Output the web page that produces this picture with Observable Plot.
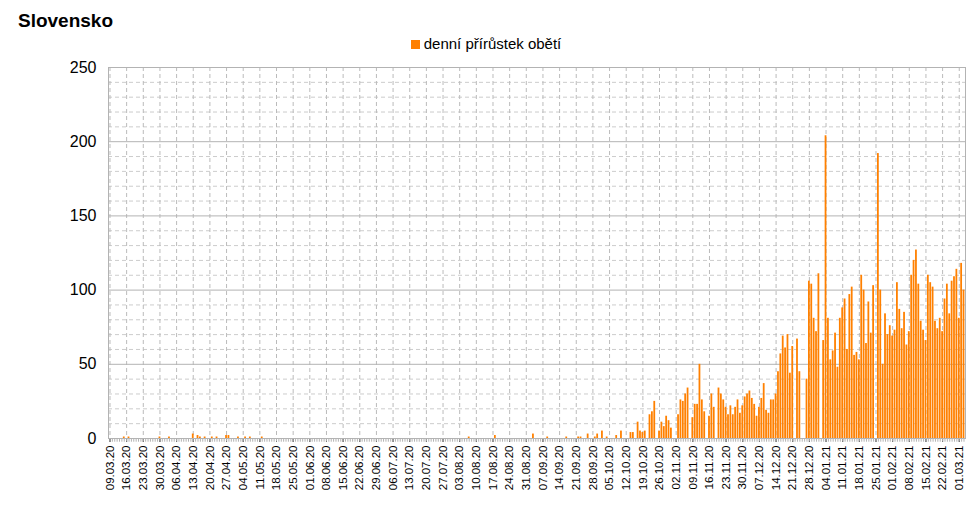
<!DOCTYPE html>
<html>
<head>
<meta charset="utf-8">
<script src="https://cdn.jsdelivr.net/npm/d3@7"></script>
<script src="https://cdn.jsdelivr.net/npm/@observablehq/plot@0.6"></script>
<style>
  body { margin: 0; background: #fff; font-family: "Liberation Sans", Arial, sans-serif; }
  #head { height: 55px; position: relative; }
  #title { position: absolute; left: 18px; top: 10px; font-weight: bold; font-size: 19px; }
  #legend { position: absolute; left: 0; right: 0; top: 35px; text-align: center; font-size: 15px; }
  #legend span { display: inline-block; width: 9px; height: 9px; background: #ff8000; margin-right: 4px; }
</style>
</head>
<body>
<div id="head">
  <div id="title">Slovensko</div>
  <div id="legend"><span></span>denní přírůstek obětí</div>
</div>
<div id="chart"></div>
<script>
// first day of the series
const startDate = new Date(Date.UTC(2020, 2, 9))
const dayCount = 360

// sparse early days: [day offset, deaths]
const earlyDays = [[6,1],[8,1],[21,1],[25,1],[35,3],[37,2],[38,1],[40,1],[43,1],[45,1],[49,2],[50,2],[54,1],[57,1],[59,1],[64,1],
  [151,1],[162,2],[178,3],[184,1],[192,1],[197,1],[198,1],[201,3],[204,1],[205,3],[207,5],[209,1],[213,2],[215,5],[219,4],[220,4],
  [222,11],[223,5],[224,4],[225,5],[227,16],[228,18],[229,25],[231,5],[232,11],[233,8],[234,15],[235,12],[236,7],[239,16],[240,26],
  [241,25],[242,30],[243,34],[245,14],[246,23],[247,23],[248,50],[249,26],[250,18],[252,15],[253,30],[254,21],[256,34],[257,30],
  [258,26],[259,21],[260,16],[261,22],[262,16],[263,21],[264,26],[265,17],[266,22],[267,28],[268,30],[269,32]]

// from 04.12.20 onward, every day
const decJan = [27,23,15,21,27,37,19,17,26,26,30,45,57,69,61,70,44,62,0,67,45,0,0,40,106,104,81,72,111,0,66,204,81,53,59,71,48,81,88,94,60,97,102,56,58,53]
const janMar = [110,100,64,92,71,103,0,192,100,50,84,70,76,69,73,105,87,74,85,63,72,110,120,127,104,79,73,66,110,105,102,79,74,81,72,94,104,84,106,109,114,81,118,100]

const fmt = d3.utcFormat("%d.%m.%y")
const values = new Array(dayCount).fill(0)
earlyDays.forEach(([d, v]) => values[d] = v)
decJan.concat(janMar).forEach((v, i) => values[270 + i] = v)
const data = values.map((v, i) => ({date: fmt(d3.utcDay.offset(startDate, i)), v}))
const allDates = data.map(d => d.date)
const weekTicks = allDates.filter((d, i) => i % 7 === 0)

const chart = Plot.plot({
  width: 972,
  height: 460,
  marginLeft: 108,
  marginRight: 7,
  marginTop: 12,
  marginBottom: 77,
  style: {fontFamily: "Liberation Sans, Arial, sans-serif", background: "#fff"},
  x: {type: "band", domain: allDates, padding: 0.25, ticks: weekTicks, tickRotate: -90, tickSize: 4, label: null, tickPadding: 3},
  y: {domain: [0, 250], ticks: d3.range(0, 251, 50), label: null, tickSize: 0, tickPadding: 12},
  marks: [
    Plot.ruleY(d3.range(10, 251, 10).filter(v => v % 50), {stroke: "#ccc", strokeDasharray: "4,3"}),
    Plot.ruleX(weekTicks, {stroke: "#bbb", strokeDasharray: "4,3"}),
    Plot.ruleY(d3.range(0, 251, 50), {stroke: "#b3b3b3", strokeWidth: 1}),
    Plot.barY(data, {x: "date", y: "v", fill: "#ff8000"}),
    Plot.ruleX(allDates, {x: d => d, y1: -2.5, y2: 0, stroke: "#b3b3b3"}),
    Plot.frame({stroke: "#b3b3b3"})
  ]
})
d3.select(chart).selectAll("g[aria-label='y-axis tick label'] text").style("font-size", "16px")
d3.select(chart).selectAll("g[aria-label='x-axis tick label'] text").style("font-size", "11.5px")
d3.select('#chart').append(() => chart)
</script>
</body>
</html>
